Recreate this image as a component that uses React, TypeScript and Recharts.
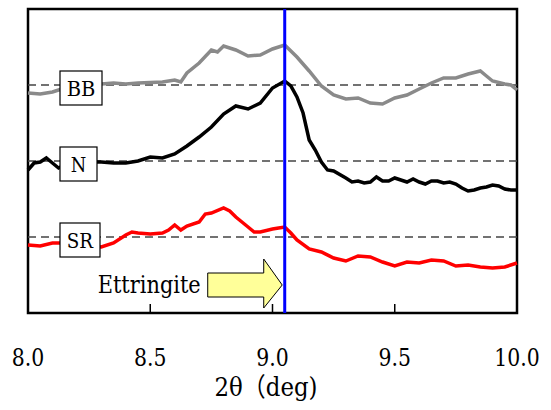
import {
  Line,
  LineChart,
  ReferenceArea,
  ReferenceLine,
  XAxis,
  YAxis,
} from 'recharts'

// 2θ positions and intensities (arbitrary units)
const bbTheta = [
  8.0, 8.05, 8.1, 8.15, 8.2, 8.25, 8.3, 8.35, 8.4, 8.45, 8.5, 8.55, 8.6, 8.625,
  8.65, 8.7, 8.75, 8.775, 8.8, 8.85, 8.9, 8.95, 9.0, 9.05, 9.1, 9.15, 9.2, 9.25,
  9.3, 9.35, 9.4, 9.45, 9.5, 9.55, 9.6, 9.65, 9.7, 9.75, 9.8, 9.85, 9.875, 9.9,
  9.95, 9.975, 10.0,
]
const bbCounts = [
  220, 219, 221, 225, 227, 228, 229, 230, 229, 230, 230.5, 231, 233, 231,
  240, 250, 263, 261, 267, 263, 257, 258, 264, 268, 256, 242, 227, 218,
  214, 215, 210, 209, 215, 218, 224, 230, 235, 235, 239, 242, 237, 232,
  229, 228, 223,
]

const nTheta = [
  8.0, 8.025, 8.05, 8.075, 8.1, 8.125, 8.15, 8.2, 8.25, 8.3, 8.35, 8.4, 8.45,
  8.5, 8.55, 8.6, 8.65, 8.7, 8.75, 8.8, 8.85, 8.9, 8.95, 9.0, 9.05, 9.075, 9.1,
  9.125, 9.15, 9.175, 9.2, 9.225, 9.25, 9.3, 9.325, 9.35, 9.375, 9.4, 9.425,
  9.45, 9.475, 9.5, 9.525, 9.55, 9.575, 9.6, 9.625, 9.65, 9.675, 9.7, 9.725,
  9.75, 9.775, 9.8, 9.825, 9.85, 9.875, 9.9, 9.925, 9.95, 9.975, 10.0,
]
const nCounts = [
  143, 150, 151, 155, 150, 145, 148, 150, 151, 151, 150, 150, 152,
  156, 155, 159, 167, 176, 186, 199, 207, 204, 210, 225, 232, 227, 216,
  200, 173, 163, 151, 143, 142, 135, 131, 132, 130, 131, 136,
  132, 132, 135, 133, 131, 134, 131, 129, 132, 132, 130, 131,
  129, 125, 122, 123, 125, 126, 128, 127, 124, 123, 123,
]

const srTheta = [
  8.0, 8.05, 8.1, 8.15, 8.2, 8.25, 8.3, 8.35, 8.4, 8.425, 8.45, 8.5, 8.55,
  8.575, 8.6, 8.625, 8.65, 8.7, 8.725, 8.75, 8.8, 8.825, 8.85, 8.875, 8.9,
  8.925, 8.95, 9.0, 9.025, 9.05, 9.075, 9.1, 9.15, 9.2, 9.25, 9.3, 9.35, 9.4,
  9.45, 9.5, 9.55, 9.6, 9.65, 9.7, 9.75, 9.8, 9.85, 9.9, 9.95, 10.0,
]
const srCounts = [
  68, 67, 70, 70, 68, 67, 66, 70, 78, 81, 80, 79, 80,
  83, 88, 83, 87, 91, 99, 100, 105, 102, 96, 91, 86,
  81, 81, 84, 85, 86, 80, 73, 64, 61, 55, 52, 57, 56,
  51, 47, 51, 50, 53, 52, 47, 48, 46, 45, 46, 50,
]

const xTicks = [8.0, 8.5, 9.0, 9.5, 10.0]
const sampleNames = ['BB', 'N', 'SR']
const baselineLevels = [228, 152, 76]
const ettringitePeak = 9.05
const xTitle = '2θ（deg)'

const toRows = (xs: number[], ys: number[]) => xs.map((t, i) => ({ t, v: ys[i] }))
const bbData = toRows(bbTheta, bbCounts)
const nData = toRows(nTheta, nCounts)
const srData = toRows(srTheta, srCounts)

// no Times here, so DejaVu Serif squeezed to Times-like advance widths
const serif = 'DejaVu Serif, Noto Sans CJK JP'
const timesAdv: Record<string, number> = {
  '0': 0.5, '1': 0.5, '2': 0.5, '5': 0.5, '8': 0.5, '9': 0.5, '.': 0.25,
  B: 0.667, N: 0.722, S: 0.556, R: 0.667, E: 0.611,
  t: 0.278, r: 0.333, i: 0.278, n: 0.5, g: 0.5, e: 0.444, d: 0.5, ')': 0.333, 'θ': 0.5,
}
const timesWidth = (s: string, size: number) =>
  [...s].reduce((w, c) => w + (timesAdv[c] ?? 0.5), 0) * size

const tagWidth: Record<string, number> = { BB: 42, N: 37, SR: 40 }

function TagBox({ viewBox, text }: any) {
  const w = tagWidth[text]
  const x = viewBox.x + 32
  const y = viewBox.y - 14
  return (
    <g>
      <rect x={x} y={y} width={w} height={34} fill='#fff' stroke='#000' strokeWidth={1.2} />
      <text
        x={x + w / 2}
        y={y + 25}
        textAnchor='middle'
        fontFamily={serif}
        fontSize={20.5}
        textLength={timesWidth(text, 21.5)}
        lengthAdjust='spacingAndGlyphs'
        fill='#000'
      >
        {text}
      </text>
    </g>
  )
}

function EttringiteArrow({ viewBox }: any) {
  const lx = viewBox.x
  const bottom = viewBox.y + viewBox.height
  const pts = [
    [lx - 77, bottom - 40],
    [lx - 21, bottom - 40],
    [lx - 21, bottom - 54],
    [lx - 2.5, bottom - 28],
    [lx - 21, bottom - 5],
    [lx - 21, bottom - 16],
    [lx - 77, bottom - 16],
  ]
  return (
    <g>
      <polygon points={pts.map((p) => p.join(',')).join(' ')} fill='#ffff99' stroke='#000' strokeWidth={1} />
      <text
        x={lx - 187}
        y={bottom - 20}
        fontFamily={serif}
        fontSize={24.5}
        textLength={103}
        lengthAdjust='spacingAndGlyphs'
        fill='#000'
      >
        Ettringite
      </text>
    </g>
  )
}

function ThetaTick({ x, y, payload }: any) {
  const label = Number(payload.value).toFixed(1)
  return (
    <text
      x={x}
      y={y + 17}
      textAnchor='middle'
      fontFamily={serif}
      fontSize={24.5}
      textLength={timesWidth(label, 26)}
      lengthAdjust='spacingAndGlyphs'
      fill='#000'
    >
      {label}
    </text>
  )
}

function AxisTitle({ viewBox }: any) {
  return (
    <text
      x={viewBox.x + viewBox.width / 2 - 58}
      y={viewBox.y + 83}
      fill='#000'
      fontFamily={serif}
      fontSize={26}
      textLength={103}
      lengthAdjust='spacingAndGlyphs'
    >
      {xTitle}
    </text>
  )
}

export default function App() {
  return (
    <div style={{ position: 'absolute', left: 0, top: 0, background: '#fff' }}>
      <LineChart width={551} height={410} margin={{ top: 9, right: 34, bottom: 12, left: 28 }}>
        <XAxis
          type='number'
          dataKey='t'
          domain={[8, 10]}
          ticks={xTicks}
          allowDuplicatedCategory={false}
          axisLine={false}
          tickLine={{ stroke: '#000', strokeWidth: 1.5 }}
          tickSize={-9}
          tickMargin={45}
          height={85}
          tick={(p: any) => <ThetaTick {...p} />}
          label={(p: any) => <AxisTitle viewBox={p.viewBox} />}
        />
        <YAxis type='number' domain={[0, 304]} hide />
        {baselineLevels.map((lv) => (
          <ReferenceLine key={lv} y={lv} stroke='#444' strokeWidth={1.3} strokeDasharray='8 5' />
        ))}
        <Line data={bbData} dataKey='v' stroke='#8a8a8a' strokeWidth={3.5} dot={false} isAnimationActive={false} />
        <Line data={nData} dataKey='v' stroke='#000' strokeWidth={3.5} dot={false} isAnimationActive={false} />
        <Line data={srData} dataKey='v' stroke='#ff0000' strokeWidth={3.5} dot={false} isAnimationActive={false} />
        <ReferenceLine
          x={ettringitePeak}
          stroke='#0000ff'
          strokeWidth={3}
          label={(p: any) => <EttringiteArrow viewBox={p.viewBox} />}
        />
        {sampleNames.map((name, i) => (
          <ReferenceLine
            key={'tag-' + name}
            y={baselineLevels[i]}
            stroke='none'
            label={(p: any) => <TagBox viewBox={p.viewBox} text={name} />}
          />
        ))}
        <ReferenceArea x1={8} x2={10} y1={0} y2={304} fill='none' stroke='#000' strokeWidth={2.5} />
      </LineChart>
    </div>
  )
}
